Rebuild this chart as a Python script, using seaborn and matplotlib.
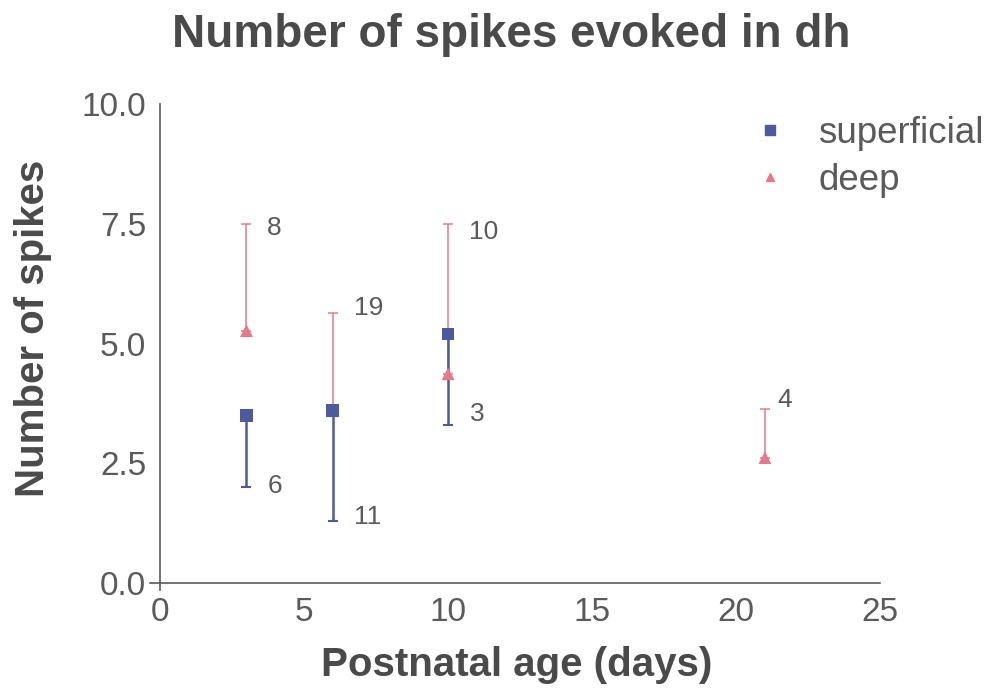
import matplotlib
matplotlib.use("Agg")
import matplotlib.pyplot as plt
import seaborn as sns
import pandas as pd

# Mean spike counts per postnatal age, with one-sided error bars
sup_age = [3, 6, 10]
sup_mean = [3.5, 3.6, 5.2]
sup_err = [1.5, 2.3, 1.9]          # drawn downward
sup_n = ["6", "11", "3"]

deep_age = [3, 6, 10, 21]
deep_mean = [5.27, 3.6, 4.37, 2.62]
deep_err = [2.23, 2.03, 3.13, 1.02]  # drawn upward
deep_n = ["8", "19", "10", "4"]

x_ticks = [0, 5, 10, 15, 20, 25]
y_ticks = [0.0, 2.5, 5.0, 7.5, 10.0]
y_ticklabels = ["0.0", "2.5", "5.0", "7.5", "10.0"]

BLUE = "#4d5a9c"
PINK = "#e3798a"
GREY = "#5a5a5a"
DARK = "#4a4a4a"

sns.set_style("white")
plt.rcParams["font.family"] = ["Liberation Sans", "DejaVu Sans"]

# deep rows first so the superficial squares sit on top
df = pd.DataFrame({
    "age": deep_age + sup_age,
    "spikes": deep_mean + sup_mean,
    "layer": ["deep"] * len(deep_age) + ["superficial"] * len(sup_age),
})

fig = plt.figure(figsize=(9.88, 6.9), dpi=100)
ax = fig.add_axes([0.1474, 0.134, 0.758, 0.736])

# error bars: superficial extends below the mean, deep above it
ax.errorbar(deep_age, deep_mean, yerr=[[0] * len(deep_err), deep_err], fmt="none",
            ecolor=PINK, elinewidth=1.1, capsize=3.5, capthick=1.1, zorder=2)
ax.errorbar(sup_age, sup_mean, yerr=[sup_err, [0] * len(sup_err)], fmt="none",
            ecolor=BLUE, elinewidth=1.8, capsize=3.5, capthick=1.5, zorder=3)

sns.scatterplot(data=df, x="age", y="spikes", hue="layer", style="layer",
                palette={"superficial": BLUE, "deep": PINK},
                markers={"superficial": "s", "deep": "^"},
                s=85, edgecolor="none", ax=ax, legend=False)
for coll in ax.collections:
    coll.set_zorder(4)

# sample-size labels next to the error bar ends
sup_offsets = [(15, 1), (15, 3), (16, 8)]
for a, m, e, n, off in zip(sup_age, sup_mean, sup_err, sup_n, sup_offsets):
    ax.annotate(n, (a, m - e), xytext=off, textcoords="offset points",
                fontsize=19, color=GREY, va="center", ha="left")
deep_offsets = [(15, -3), (15, 4), (15, -6), (9, 6)]
for a, m, e, n, off in zip(deep_age, deep_mean, deep_err, deep_n, deep_offsets):
    ax.annotate(n, (a, m + e), xytext=off, textcoords="offset points",
                fontsize=19, color=GREY, va="center", ha="left")

ax.set_xlim(-0.5, 25.5)
ax.set_ylim(-0.3, 10.3)
ax.set_xticks(x_ticks)
ax.set_yticks(y_ticks)
ax.set_yticklabels(y_ticklabels)

for side in ("top", "right"):
    ax.spines[side].set_visible(False)
ax.spines["left"].set_position(("data", 0))
ax.spines["bottom"].set_position(("data", 0))
ax.spines["left"].set_bounds(-0.15, 10)
ax.spines["bottom"].set_bounds(-0.35, 25)
for side in ("left", "bottom"):
    ax.spines[side].set_color(GREY)
    ax.spines[side].set_linewidth(1.2)

ax.tick_params(axis="both", direction="out", length=6, width=1.2,
               color=GREY, labelcolor=GREY, labelsize=24, pad=4)

ax.set_xlabel("Postnatal age (days)", fontsize=29, fontweight="bold", color=DARK)
ax.set_ylabel("Number of spikes", fontsize=29, fontweight="bold", color=DARK)
ax.xaxis.set_label_coords(0.495, -0.095)
ax.yaxis.set_label_coords(-0.125, 0.53)

fig.text(0.517, 0.949, "Number of spikes evoked in dh", ha="center", va="center",
         fontsize=33, fontweight="bold", color=DARK)

# legend
handles = [
    plt.Line2D([], [], marker="s", linestyle="none", color=BLUE, markersize=7),
    plt.Line2D([], [], marker="^", linestyle="none", color=PINK, markersize=6),
]
leg = ax.legend(handles, ["superficial", "deep"], loc="upper left",
                bbox_to_anchor=(0.79, 0.977), frameon=False, fontsize=26.5,
                handletextpad=0.8, labelspacing=0.33, borderaxespad=0,
                handlelength=1.0)
for t in leg.get_texts():
    t.set_color(GREY)

fig.savefig("out.png", dpi=100)
